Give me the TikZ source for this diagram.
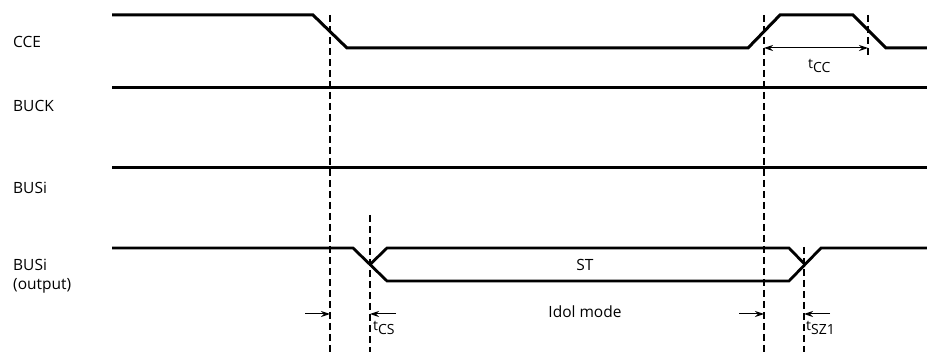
\documentclass[tikz,border=0pt]{standalone}
\usepackage{fontspec}
\setmainfont{Open Sans}
\usetikzlibrary{arrows.meta}
\begin{document}
\begin{tikzpicture}[x=1pt,y=-1pt,
  sig/.style={line width=3pt,line join=miter},
  bus/.style={line width=2.8pt,line join=miter},
  guide/.style={line width=1.3pt,dash pattern=on 7pt off 4pt},
  dim/.style={line width=1pt,-{Stealth[length=9pt,width=6pt]}},
  dimboth/.style={line width=1pt,{Stealth[length=9pt,width=6pt]}-{Stealth[length=9pt,width=6pt]}},
  lbl/.style={anchor=west,inner sep=0pt,font=\fontsize{15.5}{19}\selectfont},
  txt/.style={inner sep=0pt,font=\fontsize{15.5}{19}\selectfont},
  tm/.style={anchor=west,inner sep=0pt,font=\fontsize{14}{16}\selectfont}]
\useasboundingbox (0,0) rectangle (927,352);
% labels
\node[lbl] (lcce) at (13,42) {CCE};
\node[lbl] (lbuck) at (13,106) {BUCK};
\node[lbl] (lbusi) at (13,188) {BUSi};
\node[lbl,align=left] (lbuso) at (13,276) {BUSi\\(output)};
% CCE
\draw[sig] (112,15) -- (313,15) -- (347,48) -- (748,48) -- (780,15) -- (853,15) -- (886,48) -- (927,48);
% BUCK, BUSi
\draw[sig] (112,88) -- (927,88);
\draw[sig] (112,168) -- (927,168);
% BUSi output
\draw[bus] (112,248) -- (353,248) -- (387,281) -- (789,281) -- (821,248) -- (927,248);
\draw[bus] (370,264.5) -- (387,248) -- (789,248) -- (805,264.5);
% guides
\coordinate (g1t) at (330,15);  \coordinate (g1b) at (330,352);
\coordinate (g2t) at (764,15);  \coordinate (g2b) at (764,352);
\coordinate (g3t) at (868,15);  \coordinate (g3b) at (868,58);
\coordinate (g4t) at (370,215); \coordinate (g4b) at (370,352);
\coordinate (g5t) at (804,247); \coordinate (g5b) at (804,352);
\draw[guide] (g1t) -- (g1b);
\draw[guide] (g2t) -- (g2b);
\draw[guide] (g3t) -- (g3b);
\draw[guide] (g4t) -- (g4b);
\draw[guide] (g5t) -- (g5b);
% dimension arrows
\coordinate (a1) at (764,48); \coordinate (a2) at (868,48);
\draw[dimboth] (a1) -- (a2);
\coordinate (b1s) at (305,314); \coordinate (b1e) at (330,314);
\draw[dim] (b1s) -- (b1e);
\coordinate (b2s) at (396,314); \coordinate (b2e) at (370,314);
\draw[dim] (b2s) -- (b2e);
\coordinate (c1s) at (739,314); \coordinate (c1e) at (764,314);
\draw[dim] (c1s) -- (c1e);
\coordinate (c2s) at (830,314); \coordinate (c2e) at (804,314);
\draw[dim] (c2s) -- (c2e);
% timing labels
\node[tm] (tcc) at (808,66) {t\raisebox{-3.5pt}{CC}};
\node[tm] (tcs) at (373,328) {t\raisebox{-3.5pt}{CS}};
\node[tm] (tsz) at (806,328) {t\raisebox{-3.5pt}{SZ1}};
% texts
\node[txt] (st) at (585,265) {ST};
\node[txt] (idol) at (585,312) {Idol mode};
\end{tikzpicture}
\end{document}
